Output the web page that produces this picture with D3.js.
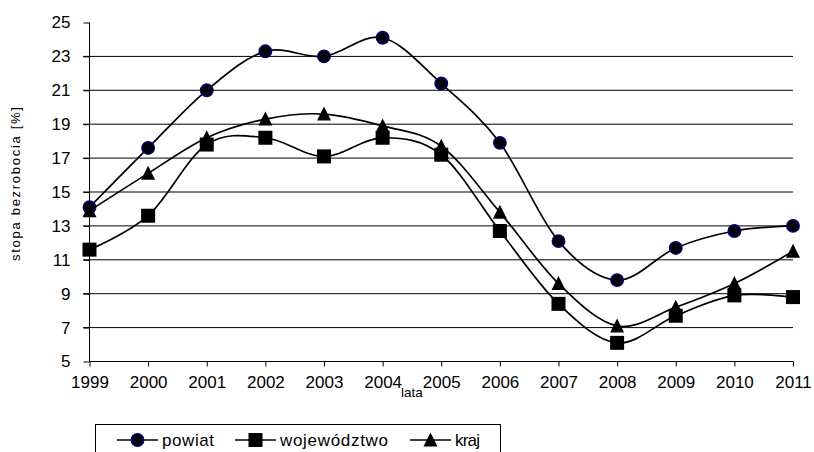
<!DOCTYPE html>
<html>
<head>
<meta charset="utf-8">
<script src="https://cdn.jsdelivr.net/npm/d3@7"></script>
<style>
  html, body { margin: 0; padding: 0; background: #fff; }
  svg { display: block; font-family: "Liberation Sans", Arial, sans-serif; }
</style>
</head>
<body>
<svg id="chart" width="814" height="452"></svg>
<script>
// Stopa bezrobocia 1999–2011: powiat, województwo, kraj
const years = [1999, 2000, 2001, 2002, 2003, 2004, 2005, 2006, 2007, 2008, 2009, 2010, 2011];
const powiat = [14.1, 17.6, 21.0, 23.3, 23.0, 24.1, 21.4, 17.9, 12.1, 9.8, 11.7, 12.7, 13.0];
const wojewodztwo = [11.6, 13.6, 17.8, 18.2, 17.1, 18.2, 17.2, 12.7, 8.4, 6.1, 7.7, 8.9, 8.8];
const kraj = [13.9, 16.1, 18.2, 19.3, 19.6, 18.9, 17.7, 13.8, 9.6, 7.1, 8.2, 9.6, 11.5];
const yTicks = [5, 7, 9, 11, 13, 15, 17, 19, 21, 23, 25];
const seriesNames = ["powiat", "województwo", "kraj"];
const yTitle = "stopa bezrobocia [%]";
const xTitle = "lata";

const series = [
  { name: seriesNames[0], values: powiat, marker: "circle" },
  { name: seriesNames[1], values: wojewodztwo, marker: "square" },
  { name: seriesNames[2], values: kraj, marker: "triangle" }
];

const svg = d3.select("#chart");

const x = d3.scaleLinear().domain([1999, 2011]).range([89.5, 793]);
const y = d3.scaleLinear().domain([5, 25]).range([361.5, 22.5]);

// horizontal grid lines (none at the top value)
svg.append("g")
  .selectAll("line")
  .data(yTicks.filter(v => v > 5 && v < 25))
  .join("line")
  .attr("x1", 83).attr("x2", x(2011))
  .attr("y1", d => y(d)).attr("y2", d => y(d))
  .attr("stroke", "#000").attr("stroke-width", 1);

// y axis
const yAxis = d3.axisLeft(y).tickValues(yTicks).tickSize(6).tickPadding(13).tickFormat(d3.format("d"));
const gy = svg.append("g").attr("transform", "translate(89.5,0)").call(yAxis);
gy.select(".domain").attr("stroke", "#000").attr("d", `M0,${y(25)}V${y(5)}`);
gy.selectAll(".tick line").attr("stroke", "#000");
gy.selectAll(".tick text").attr("font-size", 17).attr("fill", "#000")
  .attr("font-family", "Liberation Sans, Arial, sans-serif");

// x axis
const xAxis = d3.axisBottom(x).tickValues(years).tickSize(5).tickPadding(9).tickFormat(d3.format("d"));
const gx = svg.append("g").attr("transform", `translate(0,${y(5)})`).call(xAxis);
gx.select(".domain").attr("stroke", "#000").attr("d", `M${x(1999)},0H${x(2011)}`);
gx.selectAll(".tick line").attr("stroke", "#000");
gx.selectAll(".tick text").attr("font-size", 17).attr("fill", "#000")
  .attr("font-family", "Liberation Sans, Arial, sans-serif");

// axis titles
svg.append("text")
  .attr("transform", "translate(20,184) rotate(-90)")
  .attr("text-anchor", "middle")
  .attr("font-size", 13)
  .attr("textLength", 154)
  .attr("lengthAdjust", "spacing")
  .attr("fill", "#000")
  .text(yTitle);

svg.append("text")
  .attr("x", 401).attr("y", 397)
  .attr("font-size", 13.5)
  .attr("fill", "#000")
  .text(xTitle);

// marker drawing
function drawMarker(g, type, cx, cy) {
  if (type === "circle") {
    g.append("circle").attr("cx", cx).attr("cy", cy).attr("r", 6.2)
      .attr("fill", "#000").attr("stroke", "#000080").attr("stroke-width", 1.5);
  } else if (type === "square") {
    g.append("rect").attr("x", cx - 7).attr("y", cy - 7).attr("width", 14).attr("height", 14)
      .attr("fill", "#000");
  } else {
    g.append("path").attr("d", `M${cx},${cy - 7.5}L${cx + 7},${cy + 6.5}L${cx - 7},${cy + 6.5}Z`)
      .attr("fill", "#000");
  }
}

const line = d3.line()
  .x((d, i) => x(years[i]))
  .y(d => y(d))
  .curve(d3.curveCardinal.tension(0));

series.forEach(s => {
  const g = svg.append("g");
  g.append("path")
    .attr("d", line(s.values))
    .attr("fill", "none")
    .attr("stroke", "#000")
    .attr("stroke-width", 1.7);
  s.values.forEach((v, i) => drawMarker(g, s.marker, x(years[i]), y(v)));
});

// legend
const legend = svg.append("g");
legend.append("rect")
  .attr("x", 95.5).attr("y", 424.5).attr("width", 405).attr("height", 60)
  .attr("fill", "#fff").attr("stroke", "#000").attr("stroke-width", 1);

const legendItems = [
  { name: seriesNames[0], marker: "circle", x0: 117, len: 52 },
  { name: seriesNames[1], marker: "square", x0: 235, len: 108 },
  { name: seriesNames[2], marker: "triangle", x0: 410, len: 25 }
];
const ly = 440;
legendItems.forEach(it => {
  const g = legend.append("g");
  g.append("line").attr("x1", it.x0).attr("x2", it.x0 + 41).attr("y1", ly).attr("y2", ly)
    .attr("stroke", "#000").attr("stroke-width", 1.7);
  drawMarker(g, it.marker, it.x0 + 20.5, ly);
  g.append("text").attr("x", it.x0 + 45).attr("y", ly + 6)
    .attr("font-size", 17).attr("fill", "#000")
    .attr("textLength", it.len).attr("lengthAdjust", "spacing")
    .text(it.name);
});
</script>
</body>
</html>
